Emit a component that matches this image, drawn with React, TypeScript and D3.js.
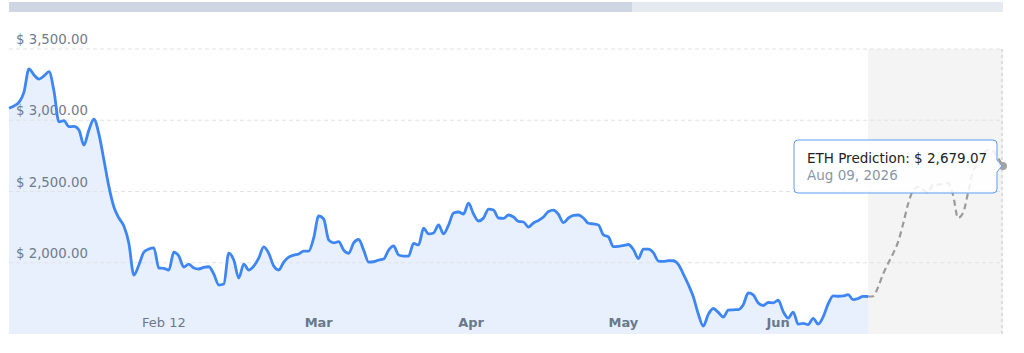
import React from 'react';
import * as d3 from 'd3';

// ---- data ----
const historyValues: number[] = [
  3084, 3100, 3125, 3198, 3360, 3318, 3289, 3311, 3341, 3205,
  2988, 2998, 2955, 2957, 2932, 2826, 2932, 3007, 2903, 2721,
  2534, 2391, 2314, 2258, 2136, 1914, 1984, 2075, 2096, 2105,
  1963, 1961, 1949, 2075, 2047, 1970, 1991, 1963, 1956, 1968,
  1972, 1921, 1844, 1851, 2068, 2019, 1893, 1991, 1949, 1977,
  2033, 2111, 2066, 1977, 1949, 2005, 2040, 2054, 2061, 2082,
  2082, 2174, 2328, 2307, 2160, 2139, 2148, 2089, 2066, 2139,
  2163, 2089, 2005, 2007, 2019, 2026, 2089, 2118, 2054, 2047,
  2047, 2136, 2125, 2242, 2202, 2209, 2265, 2202, 2265, 2349,
  2356, 2342, 2419, 2342, 2293, 2314, 2377, 2370, 2314, 2312,
  2335, 2321, 2290, 2286, 2251, 2279, 2297, 2321, 2360, 2370,
  2339, 2281, 2314, 2332, 2335, 2314, 2277, 2272, 2265, 2195,
  2181, 2113, 2115, 2121, 2128, 2093, 2030, 2096, 2096, 2071,
  2012, 2009, 2015, 2014, 1988, 1921, 1847, 1761, 1640, 1556,
  1638, 1679, 1652, 1619, 1668, 1670, 1671, 1705, 1788, 1774,
  1718, 1700, 1721, 1719, 1737, 1657, 1612, 1654, 1569, 1575,
  1566, 1610, 1570, 1621, 1711, 1767, 1765, 1767, 1776, 1741,
  1749, 1764, 1763,
];

const predictionValues: number[] = [
  1763, 1765, 1830, 1921, 1995, 2065, 2146, 2272, 2412, 2507,
  2532, 2514, 2490, 2549, 2547, 2556, 2560, 2475, 2314, 2349,
  2490, 2644, 2700, 2763, 2791, 2784, 2735, 2679.07,
];

const yTickValues: number[] = [2000, 2500, 3000, 3500];
const xTickLabels: string[] = ['Feb 12', 'Mar', 'Apr', 'May', 'Jun'];
const xTickIndex: number[] = [31, 62, 92.5, 123, 154];
const xTickBold: boolean[] = [false, true, true, true, true];

const tooltipSeries = 'ETH Prediction';
const tooltipDate = 'Aug 09, 2026';

// ---- layout ----
const W = 1024;
const H = 353;
const plotLeft = 9;
const plotRight = 1003;
const plotTop = 49;
const plotBottom = 334;
const FONT = '"DejaVu Sans", Verdana, sans-serif';

export default function App() {
  const histStart = 0;
  const predStart = historyValues.length - 1;
  const lastIndex = predStart + predictionValues.length - 1;

  const x = d3.scaleLinear().domain([0, lastIndex]).range([plotLeft, plotRight]);
  const y = d3.scaleLinear().domain([1500, 3500]).range([plotBottom, plotTop]);

  const hist = historyValues.map((v, i) => [histStart + i, v] as [number, number]);
  const pred = predictionValues.map((v, i) => [predStart + i, v] as [number, number]);

  const line = d3
    .line<[number, number]>()
    .x((d) => x(d[0]))
    .y((d) => y(d[1]))
    .curve(d3.curveMonotoneX);
  const area = d3
    .area<[number, number]>()
    .x((d) => x(d[0]))
    .y0(plotBottom)
    .y1((d) => y(d[1]))
    .curve(d3.curveMonotoneX);

  const fmt = d3.format(',.2f');

  const last = pred[pred.length - 1];
  const px = x(last[0]);
  const py = y(last[1]);

  // tooltip box
  const bx0 = 794;
  const bx1 = 997;
  const by0 = 140;
  const by1 = 193;
  const r = 4;
  const tipPath = [
    `M${bx0 + r},${by0}`,
    `H${bx1 - r}`,
    `Q${bx1},${by0} ${bx1},${by0 + r}`,
    `V${py - 6}`,
    `L${px - 1},${py}`,
    `L${bx1},${py + 6}`,
    `V${by1 - r}`,
    `Q${bx1},${by1} ${bx1 - r},${by1}`,
    `H${bx0 + r}`,
    `Q${bx0},${by1} ${bx0},${by1 - r}`,
    `V${by0 + r}`,
    `Q${bx0},${by0} ${bx0 + r},${by0}`,
    'Z',
  ].join(' ');

  return (
    <svg
      width={W}
      height={H}
      style={{ position: 'absolute', left: 0, top: 0, background: '#fff' }}
      fontFamily={FONT}
    >
      {/* top range bar */}
      <rect x={plotLeft} y={2} width={632 - plotLeft} height={10} fill="#cdd6e2" />
      <rect x={632} y={2} width={plotRight - 632} height={10} fill="#e5eaf1" />

      {/* prediction band */}
      <rect
        x={x(predStart)}
        y={plotTop}
        width={plotRight - x(predStart)}
        height={plotBottom - plotTop}
        fill="#f4f4f4"
      />

      {/* history area */}
      <path d={area(hist) || ''} fill="#e8f0fd" />

      {/* gridlines */}
      {yTickValues.map((v) => (
        <line
          key={v}
          x1={plotLeft}
          x2={plotRight}
          y1={y(v)}
          y2={y(v)}
          stroke="#dfe2e6"
          strokeDasharray="4,3"
          strokeWidth={1}
        />
      ))}

      {/* y labels */}
      {yTickValues.map((v) => (
        <text key={'l' + v} x={16} y={y(v) - 5} fontSize={13.3} fill="#6f7b8c">
          {'$ ' + fmt(v)}
        </text>
      ))}

      {/* x labels */}
      {xTickLabels.map((t, i) => (
        <text
          key={t}
          x={x(xTickIndex[i])}
          y={327}
          fontSize={13}
          textAnchor="middle"
          fontWeight={xTickBold[i] ? 'bold' : 'normal'}
          fill="#6b788c"
        >
          {t}
        </text>
      ))}

      {/* crosshair */}
      <line
        x1={px - 1}
        x2={px - 1}
        y1={plotTop}
        y2={plotBottom}
        stroke="#d2d2d2"
        strokeDasharray="3,3"
        strokeWidth={1.3}
      />

      {/* lines */}
      <path d={line(hist) || ''} fill="none" stroke="#3d86f4" strokeWidth={2.8} strokeLinejoin="round" />
      <path
        d={line(pred) || ''}
        fill="none"
        stroke="#9b9b9b"
        strokeWidth={2.2}
        strokeDasharray="6,4"
      />

      {/* marker */}
      <circle cx={px} cy={py} r={4} fill="#a3a3a3" />

      {/* tooltip */}
      <path d={tipPath} fill="rgba(255,255,255,0.85)" stroke="#5d9cf5" strokeWidth={1} />
      <text x={807} y={163} fontSize={13.5} fill="#222">
        {tooltipSeries + ': $ ' + fmt(last[1])}
      </text>
      <text x={807} y={179.5} fontSize={13.5} fill="#8a96a8">
        {tooltipDate}
      </text>
    </svg>
  );
}
